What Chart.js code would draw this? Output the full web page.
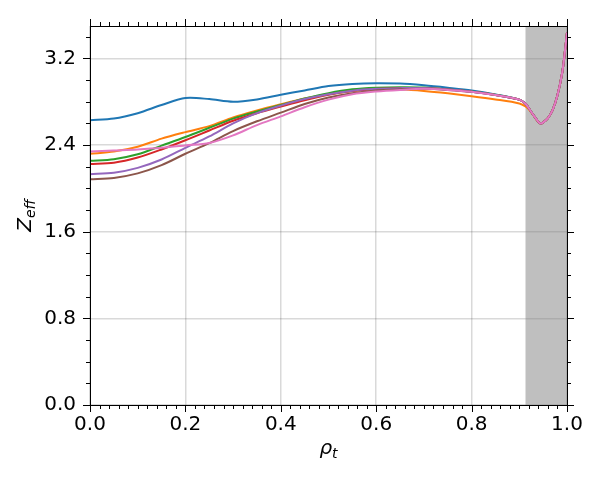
<!DOCTYPE html>
<html><head><meta charset="utf-8">
<script src="https://cdn.jsdelivr.net/npm/chart.js@4/dist/chart.umd.min.js"></script>
<style>html,body{margin:0;padding:0;background:#fff}#wrap{width:600px;height:480px}</style>
</head><body><div id="wrap"><canvas id="c" width="600" height="480"></canvas></div>
<script>
// ---- data ----
const rho = [0, 0.05, 0.1, 0.15, 0.2, 0.25, 0.3, 0.35, 0.4, 0.45, 0.5, 0.55, 0.6, 0.65, 0.7, 0.75, 0.8, 0.85, 0.9, 0.913, 0.92, 0.93, 0.94, 0.945, 0.95, 0.96, 0.97, 0.98, 0.99, 0.995, 1.0];
const zBlue   = [2.63, 2.645, 2.695, 2.77, 2.835, 2.825, 2.80, 2.822, 2.865, 2.905, 2.945, 2.965, 2.972, 2.968, 2.952, 2.93, 2.905, 2.868, 2.82, 2.785, 2.74, 2.675, 2.615, 2.60, 2.61, 2.65, 2.725, 2.86, 3.07, 3.24, 3.44];
const zOrange = [2.32, 2.34, 2.385, 2.46, 2.52, 2.575, 2.655, 2.72, 2.777, 2.83, 2.87, 2.90, 2.92, 2.915, 2.90, 2.878, 2.852, 2.822, 2.785, 2.757, 2.73, 2.672, 2.613, 2.60, 2.61, 2.65, 2.725, 2.86, 3.07, 3.24, 3.44];
const zGreen  = [2.255, 2.27, 2.315, 2.395, 2.475, 2.56, 2.645, 2.71, 2.77, 2.83, 2.88, 2.915, 2.93, 2.935, 2.932, 2.915, 2.895, 2.865, 2.82, 2.782, 2.74, 2.675, 2.615, 2.60, 2.61, 2.65, 2.725, 2.86, 3.07, 3.24, 3.44];
const zRed    = [2.225, 2.237, 2.285, 2.36, 2.445, 2.535, 2.625, 2.695, 2.756, 2.815, 2.865, 2.90, 2.918, 2.925, 2.927, 2.913, 2.893, 2.863, 2.82, 2.782, 2.74, 2.675, 2.615, 2.60, 2.61, 2.65, 2.725, 2.86, 3.07, 3.24, 3.44];
const zPurple = [2.132, 2.145, 2.19, 2.267, 2.375, 2.48, 2.60, 2.695, 2.765, 2.825, 2.87, 2.903, 2.92, 2.926, 2.927, 2.913, 2.893, 2.863, 2.82, 2.782, 2.74, 2.675, 2.615, 2.60, 2.61, 2.65, 2.725, 2.86, 3.07, 3.24, 3.44];
const zBrown  = [2.084, 2.097, 2.139, 2.215, 2.32, 2.418, 2.53, 2.62, 2.70, 2.78, 2.84, 2.88, 2.905, 2.915, 2.92, 2.91, 2.892, 2.862, 2.82, 2.782, 2.74, 2.675, 2.615, 2.60, 2.61, 2.65, 2.725, 2.86, 3.07, 3.24, 3.44];
const zPink   = [2.34, 2.35, 2.36, 2.375, 2.397, 2.42, 2.49, 2.585, 2.665, 2.75, 2.82, 2.87, 2.895, 2.91, 2.92, 2.91, 2.893, 2.862, 2.82, 2.782, 2.74, 2.675, 2.615, 2.60, 2.61, 2.65, 2.725, 2.86, 3.07, 3.24, 3.44];
const seriesList = [zBlue, zOrange, zGreen, zRed, zPurple, zBrown, zPink];
const colors = ['#1f77b4', '#ff7f0e', '#2ca02c', '#d62728', '#9467bd', '#8c564b', '#e377c2'];
const xTickLabels = ['0.0', '0.2', '0.4', '0.6', '0.8', '1.0'];
const yTickLabels = ['0.0', '0.8', '1.6', '2.4', '3.2'];
const shadedFrom = 0.913, shadedTo = 1.0;
const xMin = 0, xMax = 1, yMin = 0, yMax = 3.5;

const FONT = "'DejaVu Sans', 'Liberation Sans', sans-serif";

const datasets = seriesList.map((ys, i) => ({
  data: rho.map((r, k) => ({x: r, y: ys[k]})),
  borderColor: colors[i],
  backgroundColor: colors[i],
  borderWidth: 2,
  pointRadius: 0,
  fill: false,
  tension: 0.3,
  order: seriesList.length - i
}));

const deco = {
  id: 'deco',
  beforeDatasetsDraw(chart) {
    const ctx = chart.ctx, a = chart.chartArea, xs = chart.scales.x;
    const x0 = xs.getPixelForValue(shadedFrom), x1 = xs.getPixelForValue(shadedTo);
    ctx.save();
    ctx.fillStyle = 'rgba(128,128,128,0.5)';
    ctx.fillRect(x0, a.top, x1 - x0, a.bottom - a.top);
    ctx.restore();
  },
  afterDraw(chart) {
    const ctx = chart.ctx, a = chart.chartArea, xs = chart.scales.x, ys = chart.scales.y;
    ctx.save();
    ctx.strokeStyle = '#000';
    ctx.lineWidth = 1;
    ctx.strokeRect(Math.round(a.left) + 0.5, Math.round(a.top) + 0.5, Math.round(a.right - a.left), Math.round(a.bottom - a.top));
    const MAJ = 7, MIN = 4;
    ctx.beginPath();
    for (let i = 0; i <= 50; i++) {
      const v = i * 0.02;
      const len = (i % 10 === 0) ? MAJ : MIN;
      const px = Math.round(xs.getPixelForValue(v)) + 0.5;
      ctx.moveTo(px, a.bottom); ctx.lineTo(px, a.bottom + len);
      ctx.moveTo(px, a.top); ctx.lineTo(px, a.top - len);
    }
    for (let i = 0; i <= 17; i++) {
      const v = i * 0.2;
      const len = (i % 4 === 0) ? MAJ : MIN;
      const py = Math.round(ys.getPixelForValue(v)) + 0.5;
      ctx.moveTo(a.left - len, py); ctx.lineTo(a.left, py);
      ctx.moveTo(a.right, py); ctx.lineTo(a.right + len, py);
    }
    ctx.stroke();

    // axis titles (mathtext-like with subscripts)
    ctx.fillStyle = '#000';
    ctx.textBaseline = 'alphabetic';
    ctx.textAlign = 'left';
    const mainF = "italic 20px " + FONT, subF = "italic 14px " + FONT;
    ctx.font = mainF; const w1 = ctx.measureText('ρ').width;
    ctx.font = subF; const w2 = ctx.measureText('t').width;
    const cx = (a.left + a.right) / 2;
    let sx = cx - (w1 + w2) / 2;
    ctx.font = mainF; ctx.fillText('ρ', sx, 454);
    ctx.font = subF; ctx.fillText('t', sx + w1, 458);
    ctx.font = mainF; const w3 = ctx.measureText('Z').width;
    ctx.font = subF; const w4 = ctx.measureText('eff').width;
    const cy = (a.top + a.bottom) / 2;
    ctx.translate(31, cy);
    ctx.rotate(-Math.PI / 2);
    const s0 = -(w3 + w4) / 2;
    ctx.font = mainF; ctx.fillText('Z', s0, 0);
    ctx.font = subF; ctx.fillText('eff', s0 + w3, 4);
    ctx.restore();
  }
};

new Chart(document.getElementById('c'), {
  type: 'line',
  data: { datasets },
  options: {
    responsive: false,
    animation: false,
    devicePixelRatio: 1,
    layout: { padding: { left: 0, right: 33, top: 22, bottom: 0 }, autoPadding: false },
    plugins: { legend: { display: false }, tooltip: { enabled: false } },
    scales: {
      x: {
        type: 'linear', min: xMin, max: xMax,
        afterFit: s => { s.height = 75; },
        grid: { color: 'rgba(0,0,0,0.15)', lineWidth: 1.5, drawTicks: false },
        border: { display: false },
        ticks: {
          stepSize: 0.2, includeBounds: false, autoSkip: false, maxRotation: 0, padding: 8,
          color: '#000', font: { family: FONT, size: 20 },
          callback: (v, i) => xTickLabels[i]
        }
      },
      y: {
        type: 'linear', min: yMin, max: yMax,
        afterFit: s => { s.width = 90; },
        grid: { color: 'rgba(0,0,0,0.15)', lineWidth: 1.5, drawTicks: false },
        border: { display: false },
        ticks: {
          stepSize: 0.8, includeBounds: false, autoSkip: false, padding: 14,
          color: '#000', font: { family: FONT, size: 20 },
          callback: (v, i) => yTickLabels[i]
        }
      }
    }
  },
  plugins: [deco]
});
</script>
</body></html>
